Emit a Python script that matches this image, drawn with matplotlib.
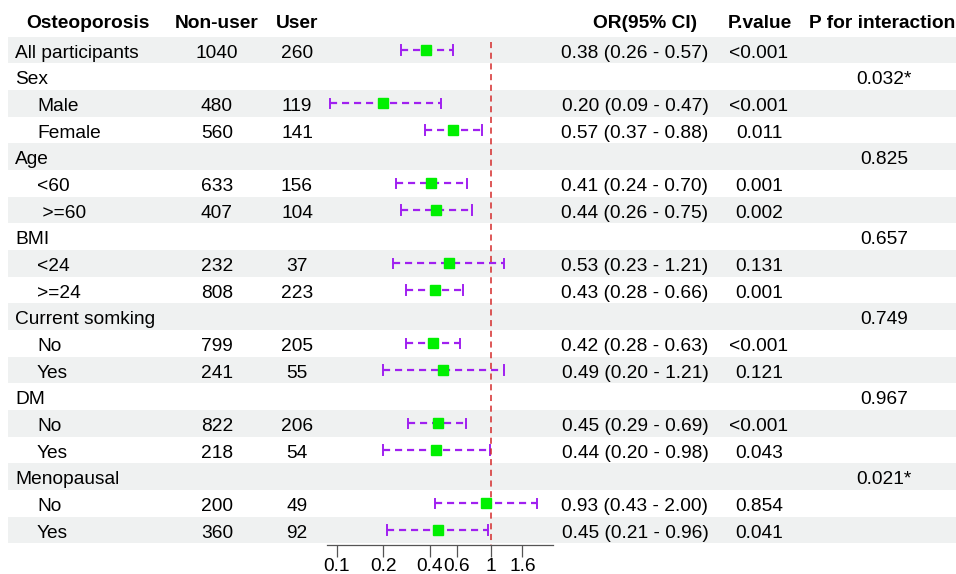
import matplotlib.pyplot as plt
import numpy as np

plt.rcParams['font.family'] = ['Liberation Sans', 'DejaVu Sans']

labels = ['All participants', 'Sex', 'Male', 'Female', 'Age', '<60', ' >=60',
          'BMI', '<24', '>=24', 'Current somking', 'No', 'Yes', 'DM', 'No', 'Yes',
          'Menopausal', 'No', 'Yes']
indent = [0, 0, 1, 1, 0, 1, 1, 0, 1, 1, 0, 1, 1, 0, 1, 1, 0, 1, 1]
non_user = ['1040', '', '480', '560', '', '633', '407', '', '232', '808', '',
            '799', '241', '', '822', '218', '', '200', '360']
user = ['260', '', '119', '141', '', '156', '104', '', '37', '223', '',
        '205', '55', '', '206', '54', '', '49', '92']
est = [0.38, None, 0.20, 0.57, None, 0.41, 0.44, None, 0.53, 0.43, None,
       0.42, 0.49, None, 0.45, 0.44, None, 0.93, 0.45]
low = [0.26, None, 0.09, 0.37, None, 0.24, 0.26, None, 0.23, 0.28, None,
       0.28, 0.20, None, 0.29, 0.20, None, 0.43, 0.21]
high = [0.57, None, 0.47, 0.88, None, 0.70, 0.75, None, 1.21, 0.66, None,
        0.63, 1.21, None, 0.69, 0.98, None, 2.00, 0.96]
or_text = ['0.38 (0.26 - 0.57)', '', '0.20 (0.09 - 0.47)', '0.57 (0.37 - 0.88)', '',
           '0.41 (0.24 - 0.70)', '0.44 (0.26 - 0.75)', '', '0.53 (0.23 - 1.21)',
           '0.43 (0.28 - 0.66)', '', '0.42 (0.28 - 0.63)', '0.49 (0.20 - 1.21)', '',
           '0.45 (0.29 - 0.69)', '0.44 (0.20 - 0.98)', '', '0.93 (0.43 - 2.00)',
           '0.45 (0.21 - 0.96)']
p_value = ['<0.001', '', '<0.001', '0.011', '', '0.001', '0.002', '', '0.131',
           '0.001', '', '<0.001', '0.121', '', '<0.001', '0.043', '', '0.854', '0.041']
p_inter = ['', '0.032*', '', '', '0.825', '', '', '0.657', '', '', '0.749', '', '',
           '0.967', '', '', '0.021*', '', '']
headers = ['Osteoporosis', 'Non-user', 'User', 'OR(95% CI)', 'P.value', 'P for interaction']
ticks = [0.1, 0.2, 0.4, 0.6, 1, 1.6]

W, H = 956, 574
fig = plt.figure(figsize=(W / 100, H / 100), dpi=100)

# table layer in pixel coords
bg = fig.add_axes([0, 0, 1, 1])
bg.set_xlim(0, W)
bg.set_ylim(H, 0)
bg.axis('off')

y0, dy = 50, 26.67
fs = 13.8
for i, lab in enumerate(labels):
    y = y0 + i * dy
    if i % 2 == 0:
        bg.add_patch(plt.Rectangle((8, y - dy / 2), W - 8, dy, color='#eff1f1', lw=0, zorder=0))
    yb = y + 7.5
    bg.text(15 + 22 * indent[i], yb, lab, fontsize=fs, va='baseline', ha='left')
    bg.text(217, yb, non_user[i], fontsize=fs, va='baseline', ha='center')
    bg.text(297, yb, user[i], fontsize=fs, va='baseline', ha='center')
    bg.text(635, yb, or_text[i], fontsize=fs, va='baseline', ha='center')
    bg.text(759, yb, p_value[i], fontsize=fs, va='baseline', ha='center')
    bg.text(884, yb, p_inter[i], fontsize=fs, va='baseline', ha='center')

hy = 28
bg.text(26, hy, headers[0], fontsize=fs, fontweight='bold', va='baseline', ha='left')
bg.text(217, hy, headers[1], fontsize=fs, fontweight='bold', va='baseline', ha='center')
bg.text(297, hy, headers[2], fontsize=fs, fontweight='bold', va='baseline', ha='center')
bg.text(645, hy, headers[3], fontsize=fs, fontweight='bold', va='baseline', ha='center')
bg.text(760, hy, headers[4], fontsize=fs, fontweight='bold', va='baseline', ha='center')
bg.text(882, hy, headers[5], fontsize=fs, fontweight='bold', va='baseline', ha='center')

# forest panel
x_left, x_right, y_top, y_bot = 327, 553, y0 - dy / 2, 545
ax = fig.add_axes([x_left / W, 1 - y_bot / H, (x_right - x_left) / W, (y_bot - y_top) / H])
ax.patch.set_alpha(0)
ax.set_xscale('log')
px_per_dec = 154.0
ax.set_xlim(10 ** ((x_left - 491) / px_per_dec), 10 ** ((x_right - 491) / px_per_dec))
ax.set_ylim((y_bot - y0) / dy, -0.5)

for i in range(len(labels)):
    if est[i] is None:
        continue
    ax.plot([low[i], high[i]], [i, i], color='#a020f0', lw=1.6, ls=(0, (3.2, 2.2)))
    ax.plot([low[i], low[i]], [i - 0.18, i + 0.18], color='#a020f0', lw=1.4)
    ax.plot([high[i], high[i]], [i - 0.18, i + 0.18], color='#a020f0', lw=1.4)
    ax.plot(est[i], i, marker='s', color='#00f000', ms=7, mec='#00f000', zorder=3)

ax.plot([1, 1], [-0.3, (y_bot - y0) / dy], color='#d42a2a', lw=1.1, ls=(0, (4, 3)))

for s in ['top', 'right', 'left']:
    ax.spines[s].set_visible(False)
ax.spines['bottom'].set_color('#555555')
ax.spines['bottom'].set_linewidth(0.9)
ax.set_yticks([])
ax.set_xticks(ticks)
ax.set_xticklabels(['0.1', '0.2', '0.4', '0.6', '1', '1.6'])
ax.minorticks_off()
ax.tick_params(axis='x', length=8.5, width=0.9, color='#555555', labelsize=fs, pad=1)

fig.savefig('out.png', dpi=100)
